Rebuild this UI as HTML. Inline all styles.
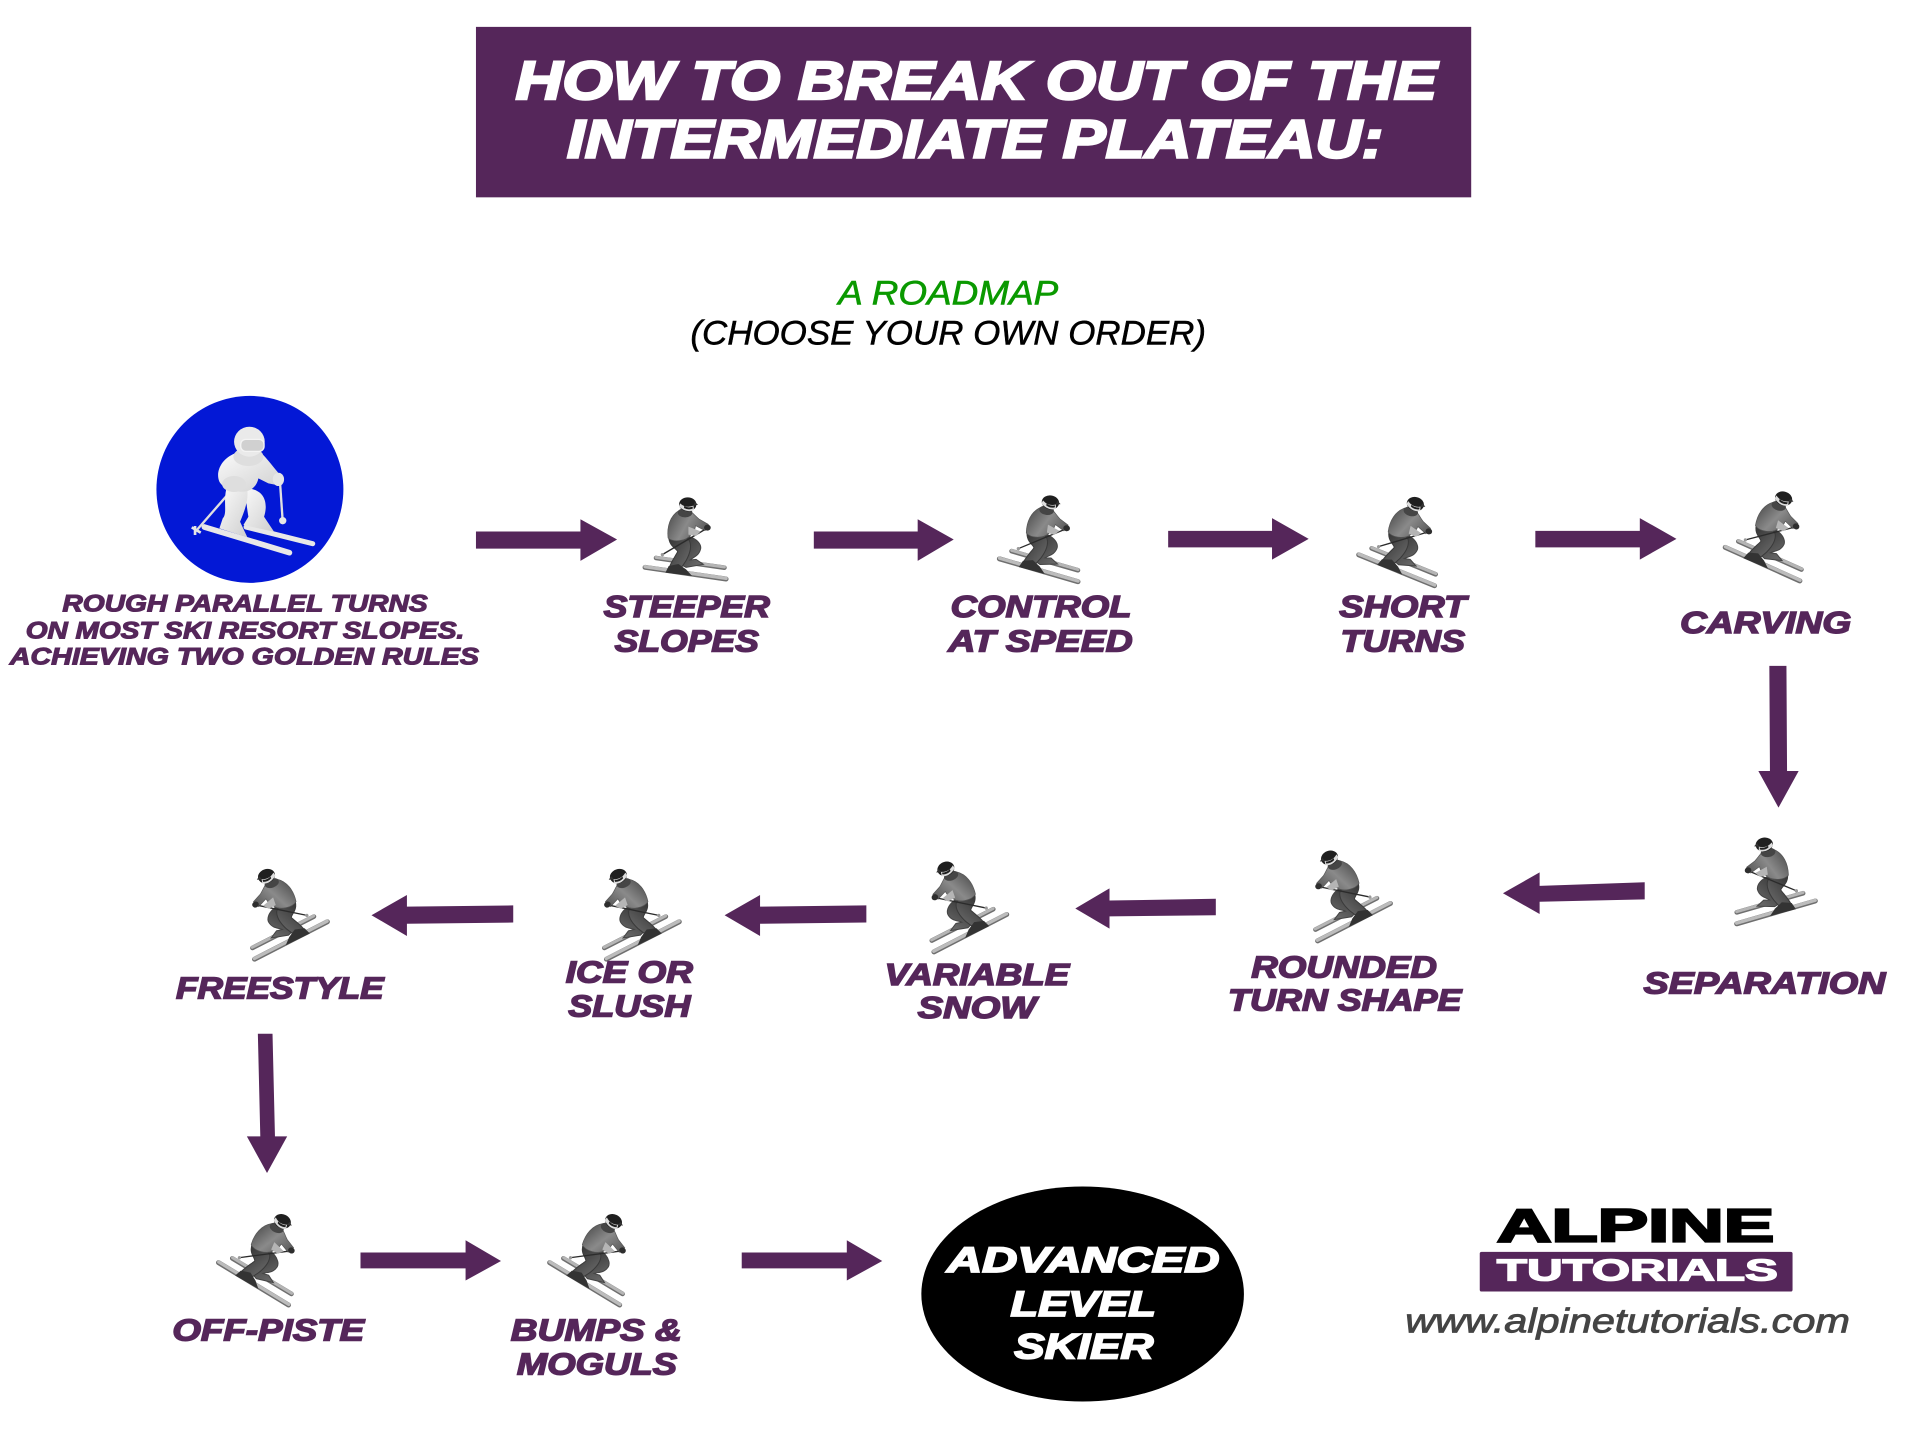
<!DOCTYPE html>
<html><head><meta charset="utf-8"><title>How to break out of the intermediate plateau</title>
<style>
html,body{margin:0;padding:0;background:#fff;width:1916px;height:1440px;overflow:hidden}
svg{display:block}
text{font-family:"Liberation Sans",sans-serif;font-weight:700;font-style:italic;paint-order:stroke}
.l{fill:#55265a;stroke:#55265a;stroke-width:1.2;font-size:25px}
.s{fill:#55265a;stroke:#55265a;stroke-width:.9;font-size:19.5px}
.w{fill:#fff;stroke:#fff}
</style></head><body>
<svg width="1916" height="1440" viewBox="0 0 1568 1178.5" xmlns="http://www.w3.org/2000/svg">
<defs>
<linearGradient id="g1" x1="0" y1="0" x2="1" y2=".4"><stop offset="0" stop-color="#4a4a4a"/><stop offset=".55" stop-color="#8a8a8a"/><stop offset="1" stop-color="#5e5e5e"/></linearGradient>
<linearGradient id="g2" x1="0" y1="0" x2="1" y2="1"><stop offset="0" stop-color="#303030"/><stop offset="1" stop-color="#707070"/></linearGradient>
<linearGradient id="g3" x1="0" y1="0" x2="1" y2="1"><stop offset="0" stop-color="#fafafa"/><stop offset="1" stop-color="#cfcfcf"/></linearGradient>
<g id="sk">
<path d="M108 264L313 293" stroke="#6f6f6f" stroke-width="14" stroke-linecap="round" fill="none"/>
<path d="M108 262L313 291" stroke="#b5b5b5" stroke-width="9" stroke-linecap="round" fill="none"/>
<path d="M75 292L318 327" stroke="#6f6f6f" stroke-width="15" stroke-linecap="round" fill="none"/>
<path d="M75 290L318 325" stroke="#bcbcbc" stroke-width="10" stroke-linecap="round" fill="none"/>
<path d="M172 200C205 190 244 212 242 235C238 258 218 262 210 270L228 268L250 283L198 292L178 282L188 255Z" fill="url(#g2)" stroke="#444" stroke-width="3"/>
<path d="M146 198C146 230 170 235 173 245C165 260 150 280 146 298L178 302L198 272C210 250 216 230 208 212L185 190Z" fill="url(#g2)" stroke="#3a3a3a" stroke-width="3"/>
<path d="M146 288L175 282L198 298L216 318L136 308Z" fill="#333"/>
<path d="M176 122C150 138 140 170 144 204C160 218 198 214 213 194C228 180 224 172 227 167L255 182L265 163L238 148C222 135 214 122 205 122Z" fill="url(#g1)" stroke="#555" stroke-width="2"/>
<path d="M252 180L130 252" stroke="#2b2b2b" stroke-width="4" fill="none"/>
<circle cx="127" cy="254" r="5" fill="#999"/>
<path d="M205 170L242 184L228 198L205 194Z" fill="#b5b5b5"/>
<ellipse cx="262" cy="173" rx="10" ry="9" fill="#2e2e2e"/>
<ellipse cx="195" cy="128" rx="22" ry="14" fill="#454545"/>
<ellipse cx="203" cy="103" rx="26" ry="21" fill="#1f1f1f"/>
<path d="M224 96L234 104L219 108Z" fill="#333"/>
<path d="M177 110Q200 130 222 120L220 107Q198 116 180 100Z" fill="#ddd"/>
<path d="M192 114Q204 121 218 116L218 110Q204 115 192 108Z" fill="#1f1f1f"/>
</g>
</defs>

<rect x="389.5" y="22" width="814.5" height="139.5" fill="#55265a"/>
<text x="422" y="81" textLength="754" lengthAdjust="spacingAndGlyphs" font-size="44" class="w" stroke-width="2">HOW TO BREAK OUT OF THE</text>
<text x="464" y="129" textLength="668" lengthAdjust="spacingAndGlyphs" font-size="44" class="w" stroke-width="2">INTERMEDIATE PLATEAU:</text>

<text x="686" y="249" textLength="180" lengthAdjust="spacingAndGlyphs" font-size="28" style="font-weight:400;fill:#0a9900;stroke:#0a9900;stroke-width:.5">A ROADMAP</text>
<text x="565" y="282" textLength="422" lengthAdjust="spacingAndGlyphs" font-size="28" style="font-weight:400;fill:#000;stroke:#000;stroke-width:.4">(CHOOSE YOUR OWN ORDER)</text>

<circle cx="204.5" cy="400.5" r="76.5" fill="#0318d6"/>
<g transform="translate(114.6 319.2) scale(.2728)" fill="url(#g3)">
<path d="M193 411L448 488" stroke="#e8e8e8" stroke-width="17" stroke-linecap="round"/>
<path d="M318 411L518 461" stroke="#e8e8e8" stroke-width="15" stroke-linecap="round"/>
<path d="M268 308L172 418" stroke="#e0e0e0" stroke-width="7" fill="none"/>
<path d="M155 412L182 428M165 408L165 435" stroke="#e6e6e6" stroke-width="8" fill="none"/>
<path d="M418 250L428 395" stroke="#e0e0e0" stroke-width="7" fill="none"/>
<circle cx="428" cy="392" r="11" fill="#e6e6e6"/>
<path d="M315 295C375 295 385 340 372 380L402 425L310 405L325 380C320 350 318 330 315 295Z"/>
<path d="M258 300C250 340 262 370 248 385L238 415L322 442L300 395C315 360 325 330 322 300Z"/>
<path d="M285 190C245 205 225 245 238 275C250 295 270 300 300 305C330 308 350 290 355 265L385 280L410 285L430 270L412 245C395 225 380 205 365 190Z"/>
<ellipse cx="282" cy="282" rx="36" ry="24" fill="#dedede"/>
<ellipse cx="415" cy="268" rx="17" ry="20" fill="#e6e6e6"/>
<ellipse cx="325" cy="200" rx="45" ry="28" fill="#dedede"/>
<ellipse cx="328" cy="155" rx="46" ry="45" fill="#eaeaea"/>
<rect x="302" y="148" width="70" height="36" rx="15" fill="#d0d0d0" stroke="#f4f4f4" stroke-width="4"/>
</g>

<text class="s" x="51" y="500.5" textLength="299" lengthAdjust="spacingAndGlyphs">ROUGH PARALLEL TURNS</text>
<text class="s" x="21" y="522.5" textLength="359" lengthAdjust="spacingAndGlyphs">ON MOST SKI RESORT SLOPES.</text>
<text class="s" x="8" y="544" textLength="384" lengthAdjust="spacingAndGlyphs">ACHIEVING TWO GOLDEN RULES</text>

<g fill="#55265a">
<path d="M389.500 435H475V425L505 441.500L475 459V449H389.500Z"/>
<path d="M666 435H751V425L780.500 441.500L751 459V449H666Z"/>
<path d="M956 434.500H1041V424L1071 441L1041 458V448H956Z"/>
<path d="M1256.500 434.500H1342V424L1372 441L1342 458V448H1256.500Z"/>
<path d="M1448 545H1462L1462.500 631H1472L1455.500 661L1439 631H1448.500Z"/>
<path d="M1346 722L1346 736L1260 738V748L1230 731L1260 714V725Z"/>
<path d="M995 735.500L995 749L908 750V760L880 743.500L908 727V737Z"/>
<path d="M709 741L709 755L622 756V766L593 749L622 732.500V742Z"/>
<path d="M420 741L420 755L333 756V766L304 749L333 732.500V742Z"/>
<path d="M211 846L223 846L225 930H235L218.500 960L202 930H213Z"/>
<path d="M295 1025H381V1015L410 1032L381 1048V1038H295Z"/>
<path d="M607 1025H693V1015L722 1032L693 1048V1038H607Z"/>
</g>

<use href="#sk" transform="translate(560.9 468.4) scale(.2728) translate(-196 -307)"/>
<use href="#sk" transform="translate(850 466) rotate(8) scale(.2728) translate(-196 -307)"/>
<use href="#sk" transform="translate(1143 466) rotate(14) scale(.2728) translate(-196 -307)"/>
<use href="#sk" transform="translate(1442.500 461) rotate(16) scale(.2728) translate(-196 -307)"/>
<use href="#sk" transform="translate(1453.500 746) rotate(-8) scale(-.2728 .2728) translate(-196 -307)"/>
<use href="#sk" transform="translate(1108 754) rotate(-19) scale(-.2728 .2728) translate(-196 -307)"/>
<use href="#sk" transform="translate(794 763) rotate(-19) scale(-.2728 .2728) translate(-196 -307)"/>
<use href="#sk" transform="translate(526 769) rotate(-19) scale(-.2728 .2728) translate(-196 -307)"/>
<use href="#sk" transform="translate(238 769) rotate(-19) scale(-.2728 .2728) translate(-196 -307)"/>
<use href="#sk" transform="translate(207.600 1050) rotate(23) scale(.2728) translate(-196 -307)"/>
<use href="#sk" transform="translate(478.600 1050) rotate(23) scale(.2728) translate(-196 -307)"/>

<text class="l" x="494" y="505" textLength="136" lengthAdjust="spacingAndGlyphs">STEEPER</text>
<text class="l" x="503" y="533" textLength="118" lengthAdjust="spacingAndGlyphs">SLOPES</text>
<text class="l" x="778" y="505" textLength="148" lengthAdjust="spacingAndGlyphs">CONTROL</text>
<text class="l" x="776" y="533" textLength="151" lengthAdjust="spacingAndGlyphs">AT SPEED</text>
<text class="l" x="1096" y="505" textLength="104" lengthAdjust="spacingAndGlyphs">SHORT</text>
<text class="l" x="1097" y="533" textLength="102" lengthAdjust="spacingAndGlyphs">TURNS</text>
<text class="l" x="1375" y="518" textLength="140" lengthAdjust="spacingAndGlyphs">CARVING</text>
<text class="l" x="1345" y="813" textLength="198" lengthAdjust="spacingAndGlyphs">SEPARATION</text>
<text class="l" x="1024" y="800" textLength="152" lengthAdjust="spacingAndGlyphs">ROUNDED</text>
<text class="l" x="1005" y="827" textLength="191" lengthAdjust="spacingAndGlyphs">TURN SHAPE</text>
<text class="l" x="724" y="806" textLength="151" lengthAdjust="spacingAndGlyphs">VARIABLE</text>
<text class="l" x="751" y="833" textLength="97" lengthAdjust="spacingAndGlyphs">SNOW</text>
<text class="l" x="463" y="804" textLength="104" lengthAdjust="spacingAndGlyphs">ICE OR</text>
<text class="l" x="465" y="832" textLength="100" lengthAdjust="spacingAndGlyphs">SLUSH</text>
<text class="l" x="144" y="817" textLength="170" lengthAdjust="spacingAndGlyphs">FREESTYLE</text>
<text class="l" x="141" y="1097" textLength="157" lengthAdjust="spacingAndGlyphs">OFF-PISTE</text>
<text class="l" x="418" y="1097" textLength="140" lengthAdjust="spacingAndGlyphs">BUMPS &amp;</text>
<text class="l" x="423" y="1125" textLength="131" lengthAdjust="spacingAndGlyphs">MOGULS</text>

<ellipse cx="886" cy="1059" rx="132" ry="88" fill="#000"/>
<text x="775" y="1041" textLength="223" lengthAdjust="spacingAndGlyphs" font-size="29" class="w" stroke-width="1.4">ADVANCED</text>
<text x="827" y="1077" textLength="119" lengthAdjust="spacingAndGlyphs" font-size="29" class="w" stroke-width="1.4">LEVEL</text>
<text x="830" y="1112" textLength="114" lengthAdjust="spacingAndGlyphs" font-size="29" class="w" stroke-width="1.4">SKIER</text>

<text x="1225" y="1016" textLength="227" lengthAdjust="spacingAndGlyphs" font-size="38" style="font-style:normal;fill:#000;stroke:#000;stroke-width:1.8">ALPINE</text>
<rect x="1211" y="1024.500" width="256" height="32.500" rx="1.500" fill="#55265a"/>
<text x="1225" y="1048" textLength="230" lengthAdjust="spacingAndGlyphs" font-size="25" class="w" stroke-width="1.100" style="font-style:normal">TUTORIALS</text>
<text x="1150" y="1090.500" textLength="364" lengthAdjust="spacingAndGlyphs" font-size="28" style="font-weight:400;fill:#444;stroke:#444;stroke-width:.7">www.alpinetutorials.com</text>
</svg>
</body></html>
